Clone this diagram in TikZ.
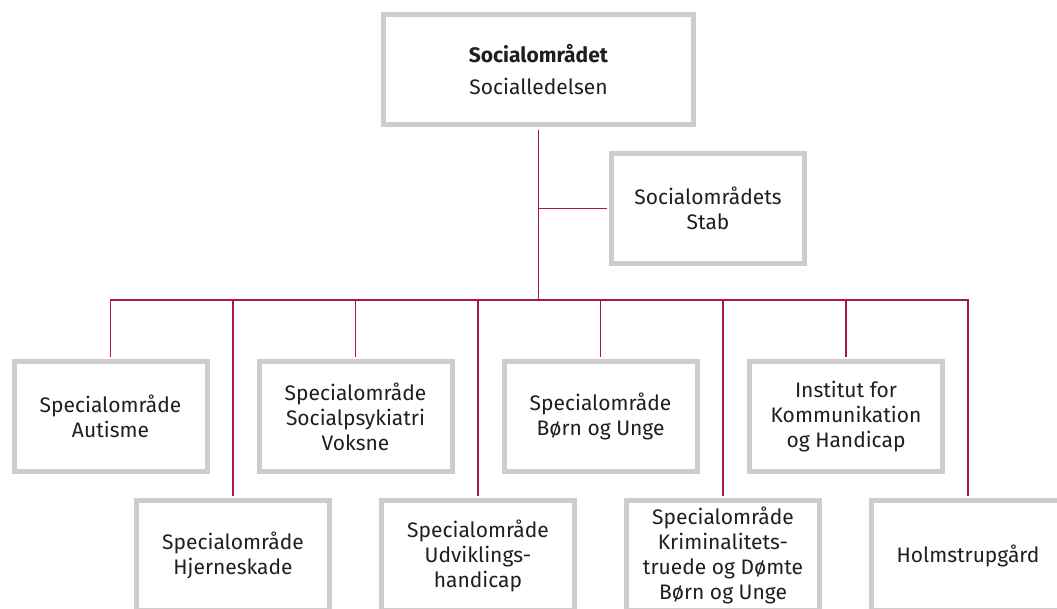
\documentclass[tikz,border=0pt]{standalone}
\usepackage{fontspec}
\setmainfont{Fira Sans}
\usepackage{tikz}

\definecolor{lineRed}{RGB}{168,24,72}
\definecolor{boxGray}{RGB}{205,205,205}

\begin{document}
\begin{tikzpicture}[x=1pt, y=-1pt,
  unit/.style={draw=boxGray, line width=5pt, fill=white, align=center, inner sep=0pt,
    minimum width=193pt, minimum height=110pt, text=black!88,
    font=\fontsize{21}{25}\selectfont},
  link/.style={draw=lineRed, line width=1.6pt, shorten <=2.5pt}]

\useasboundingbox (0,0) rectangle (1057,608);
\clip (0,0) rectangle (1057,608);

\node [unit, minimum width=310pt] (ledelse) at (538.5,69.5) {\textbf{Socialområdet}\\[7pt]Socialledelsen};
\node [unit] (stab) at (708,208.5) {Socialområdets\\Stab};

\node [unit] (aut) at (110.5,416.5) {Specialområde\\Autisme};
\node [unit] (psyk) at (355.5,416.5) {Specialområde\\Socialpsykiatri\\Voksne};
\node [unit] (bu) at (600.5,416.5) {Specialområde\\Børn og Unge};
\node [unit] (ikh) at (846,416.5) {Institut for\\Kommunikation\\og Handicap};

\node [unit] (hjerne) at (233,555.5) {Specialområde\\Hjerneskade};
\node [unit] (udv) at (478,555.5) {Specialområde\\Udviklings-\\handicap};
\node [unit] (krim) at (723,555.5) {Specialområde\\Kriminalitets-\\truede og Dømte\\Børn og Unge};
\node [unit] (holm) at (968,555.5) {Holmstrupgård};

\coordinate (bus) at (538.5,300);

\draw[link] (ledelse.south)--(bus);
\draw[link] (stab.west)--(stab.west -| ledelse.south);

\draw[link] (aut.north) |- (bus);
\draw[link] (hjerne.north) |- (bus);
\draw[link] (psyk.north) |- (bus);
\draw[link] (udv.north) |- (bus);
\draw[link] (bu.north) |- (bus);
\draw[link] (krim.north) |- (bus);
\draw[link] (ikh.north) |- (bus);
\draw[link] (holm.north) |- (bus);

\end{tikzpicture}
\end{document}
